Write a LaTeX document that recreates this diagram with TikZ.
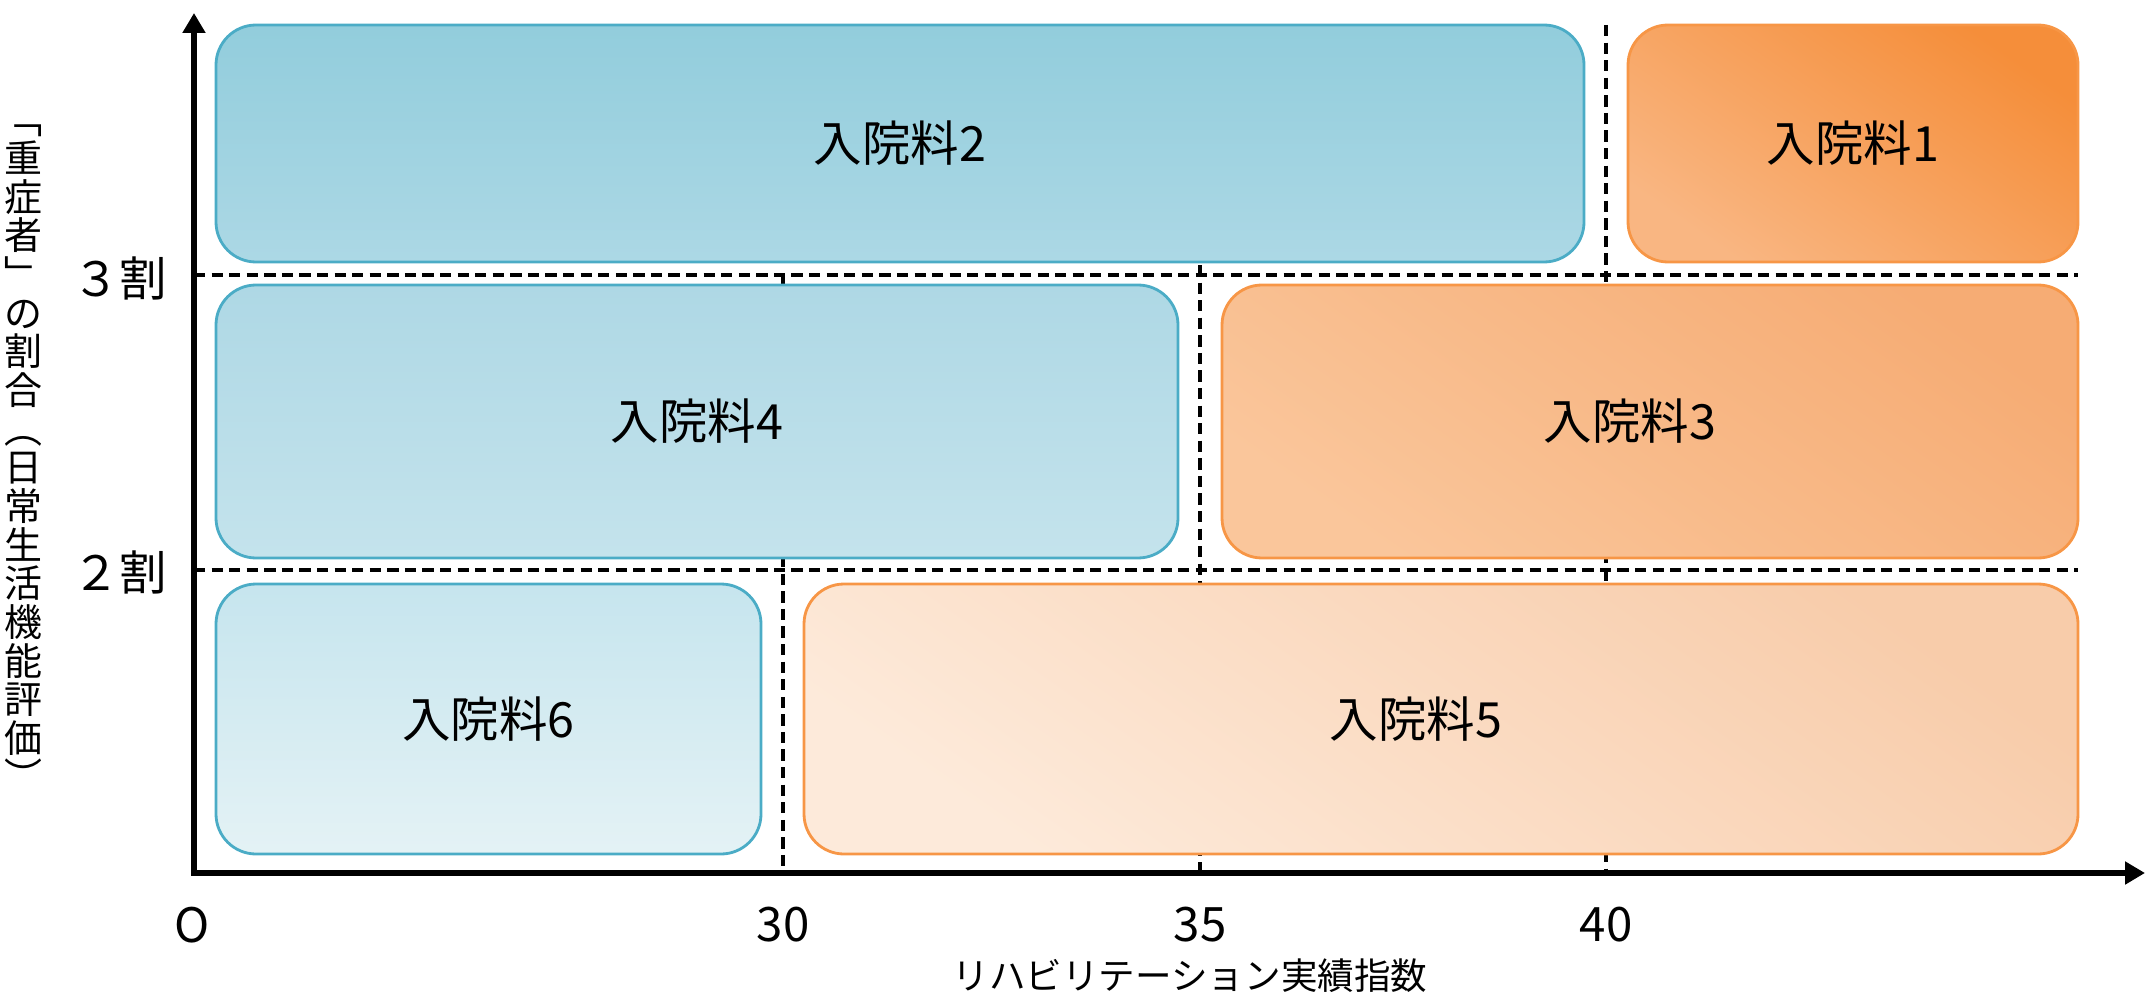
\documentclass[tikz,border=0pt]{standalone}
\usepackage{fontspec}
\setmainfont{Noto Sans CJK JP}
\usetikzlibrary{arrows.meta}

\definecolor{edgeBlue}{RGB}{75,172,198}
\definecolor{edgeOrange}{RGB}{247,150,70}
% fills, top / bottom
\definecolor{blueTwoT}{RGB}{146,205,220}
\definecolor{blueTwoB}{RGB}{172,216,229}
\definecolor{blueFourT}{RGB}{174,216,229}
\definecolor{blueFourB}{RGB}{196,227,236}
\definecolor{blueSixT}{RGB}{198,229,238}
\definecolor{blueSixB}{RGB}{228,242,245}
\definecolor{orangeOneT}{RGB}{245,142,58}
\definecolor{orangeOneB}{RGB}{249,182,130}
\definecolor{orangeThreeT}{RGB}{246,172,116}
\definecolor{orangeThreeB}{RGB}{250,198,155}
\definecolor{orangeFiveT}{RGB}{248,204,170}
\definecolor{orangeFiveB}{RGB}{253,234,218}

\tikzset{
    box/.style={draw, line width=0.8pt, rounded corners=0.4cm, inner sep=0pt,
        font=\fontsize{13.8pt}{16pt}\selectfont},
    bluebox/.style 2 args={box, draw=edgeBlue, top color=#1, bottom color=#2},
    orangebox/.style 2 args={box, draw=edgeOrange, top color=#1, bottom color=#2, shading angle=-35},
    guide/.style={line width=1.1pt, dash pattern=on 3.2pt off 1.8pt},
    axis/.style={line width=1.5pt, -{Triangle[length=0.2cm,width=0.22cm]}},
    ticklab/.style={font=\fontsize{13.5pt}{16pt}\selectfont},
    axislab/.style={font=\fontsize{10.4pt}{10.4pt}\selectfont, align=center, inner sep=0pt},
}

\begin{document}
\begin{tikzpicture}
    \useasboundingbox (0,0) rectangle (21.45,9.95);

    % Axis origin
    \coordinate (o) at (1.94,1.22);

    % Guides (dashed)
    \draw[guide] (o |- 0,7.20) -- (20.78,7.20);
    \draw[guide] (o |- 0,4.25) -- (20.78,4.25);
    \draw[guide] (7.83,7.20) -- (7.83,0 |- o);
    \draw[guide] (12.00,7.30) -- (12.00,0 |- o);
    \draw[guide] (16.06,9.70) -- (16.06,0 |- o);

    % Boxes
    \node[bluebox={blueTwoT}{blueTwoB}, minimum width=13.68cm, minimum height=2.37cm]
        (r2) at (9.00,8.515) {入院料2};
    \node[orangebox={orangeOneT}{orangeOneB}, minimum width=4.50cm, minimum height=2.37cm]
        (r1) at (18.53,8.515) {入院料1};
    \node[bluebox={blueFourT}{blueFourB}, minimum width=9.62cm, minimum height=2.73cm]
        (r4) at (6.97,5.735) {入院料4};
    \node[orangebox={orangeThreeT}{orangeThreeB}, minimum width=8.56cm, minimum height=2.73cm]
        (r3) at (16.50,5.735) {入院料3\hspace*{0.4cm}};
    \node[bluebox={blueSixT}{blueSixB}, minimum width=5.45cm, minimum height=2.70cm]
        (r6) at (4.885,2.76) {入院料6};
    \node[orangebox={orangeFiveT}{orangeFiveB}, minimum width=12.74cm, minimum height=2.70cm]
        (r5) at (14.41,2.76) {入院料5\hspace*{0.5cm}};

    % Axes
    \draw[axis] ([xshift=-0.75pt]o) -- (21.45,1.22);
    \draw[axis] ([yshift=-0.75pt]o) -- (1.94,9.82);

    % Tick labels
    \node[ticklab] (l0) at (1.92,0.70) {O};
    \node[ticklab] (l30) at (7.83,0.70) {30};
    \node[ticklab] (l35) at (12.00,0.70) {35};
    \node[ticklab] (l40) at (16.06,0.70) {40};
    \node[ticklab] (l3w) at (1.20,7.17) {３割};
    \node[ticklab] (l2w) at (1.20,4.23) {２割};

    % Axis titles
    \node[axislab] (xlab) at (11.90,0.19) {リハビリテーション実績指数};
    \node[axislab, font=\fontsize{10.8pt}{11pt}\selectfont] (ylab) at (0.23,5.37)
        {﹁\\重\\症\\者\\﹂\\の\\割\\合\\︵\\日\\常\\生\\活\\機\\能\\評\\価\\︶};
\end{tikzpicture}
\end{document}
